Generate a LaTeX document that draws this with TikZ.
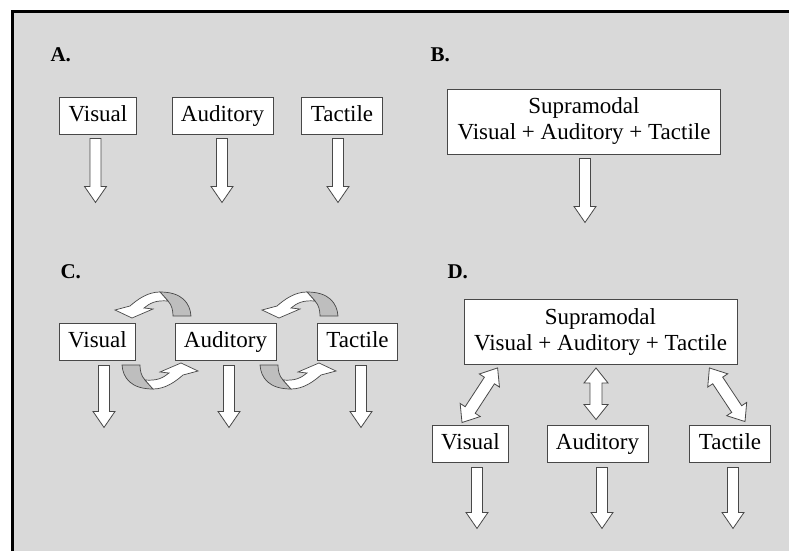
\documentclass[tikz,border=0pt]{standalone}
\usepackage{fontspec}
\setmainfont{Liberation Serif}
\usetikzlibrary{calc}

\definecolor{panel}{RGB}{217,217,217}
\definecolor{rim}{RGB}{72,72,72}
\definecolor{fold}{RGB}{190,190,190}

\tikzset{
	box/.style={draw=rim, fill=white, line width=0.9pt, inner xsep=9pt, inner ysep=0pt,
		minimum height=37pt, text height=16pt, text depth=5pt, font=\fontsize{23}{26}\selectfont},
	bigbox/.style={draw=rim, fill=white, line width=0.9pt, inner xsep=10pt, inner ysep=0pt,
		minimum height=65pt, align=center, font=\fontsize{23}{26}\selectfont},
	panel label/.style={anchor=base west, font=\fontsize{21}{24}\selectfont\bfseries},
	fat/.style={draw=rim, fill=white, line width=0.8pt, line join=miter},
	swoop/.pic={
		\filldraw[draw=rim, fill=fold, line width=0.7pt] (14,-15) .. controls (18,-11) and (19,-5) .. (19,0)
			-- (37,0) .. controls (36,-13) and (28,-24) .. (6,-24) -- cycle;
		\filldraw[fat, line width=0.7pt] (6,-24) .. controls (-6,-24) and (-16,-17) .. (-24,-10)
			-- (-39,-6) -- (-22,2) -- (-1,-7) -- (-10,-8)
			.. controls (-4,-13) and (2,-16) .. (14,-15) -- cycle;
	},
}

% hollow block arrow, tip at #2
\newcommand{\fatarrow}[2]{%
	\coordinate (fa) at (#1);
	\coordinate (fb) at (#2);
	\coordinate (fh) at ($(fb)!16pt!(fa)$);
	\filldraw[fat] ($(fa)!5.5pt!90:(fb)$) -- ($(fh)!5.5pt!-90:(fa)$) -- ($(fh)!11pt!-90:(fa)$)
		-- (fb) -- ($(fh)!11pt!90:(fa)$) -- ($(fh)!5.5pt!90:(fa)$) -- ($(fa)!5.5pt!-90:(fb)$) -- cycle;
}
% hollow block arrow with two tips
\newcommand{\fattwoway}[2]{%
	\coordinate (fa) at (#1);
	\coordinate (fb) at (#2);
	\coordinate (fh) at ($(fa)!15pt!(fb)$);
	\coordinate (fk) at ($(fb)!15pt!(fa)$);
	\filldraw[fat] (fa) -- ($(fh)!12pt!-90:(fb)$) -- ($(fh)!6pt!-90:(fb)$) -- ($(fk)!6pt!90:(fa)$)
		-- ($(fk)!12pt!90:(fa)$) -- (fb) -- ($(fk)!12pt!-90:(fa)$) -- ($(fk)!6pt!-90:(fa)$)
		-- ($(fh)!6pt!90:(fb)$) -- ($(fh)!12pt!90:(fb)$) -- cycle;
}

\begin{document}
\begin{tikzpicture}[x=1pt, y=-1pt]
	\useasboundingbox (0,0) rectangle (789,551);
	\fill[white] (0,0) rectangle (789,551);
	\fill[panel] (12,11) rectangle (789,551);
	\draw[line width=3pt] (12.5,551) -- (12.5,11.5) -- (789,11.5);

	% A
	\node[panel label] (labA) at (47,62) {A.};
	\node[box] (vA) at (98,115.5) {Visual};
	\node[box] (aA) at (222.5,115.5) {Auditory};
	\node[box] (tA) at (342,115.5) {Tactile};
	\foreach \n/\dx in {vA/-2.5, aA/-0.5, tA/-4} {
		\coordinate (\n out) at ($(\n.south)+(\dx,68)$);
		\fatarrow{$(\n.south)+(\dx,4)$}{\n out}
	}

	% B
	\node[panel label] (labB) at (427,62) {B.};
	\node[bigbox] (sB) at (584,121.5) {Supramodal\\Visual + Auditory + Tactile};
	\coordinate (sBout) at ($(sB.south)+(1,68)$);
	\fatarrow{$(sB.south)+(1,4)$}{sBout}

	% C
	\node[panel label] (labC) at (57,278) {C.};
	\node[box] (vC) at (97.5,341.5) {Visual};
	\node[box] (aC) at (225.5,341.5) {Auditory};
	\node[box] (tC) at (357.5,341.5) {Tactile};
	\foreach \n/\dx in {vC/6.5, aC/3.5, tC/3.5} {
		\coordinate (\n out) at ($(\n.south)+(\dx,67)$);
		\fatarrow{$(\n.south)+(\dx,5)$}{\n out}
	}
	\pic at (154,316) {swoop};
	\pic at (301,316) {swoop};
	\pic[rotate=180] at (159,365) {swoop};
	\pic[rotate=180] at (297,365) {swoop};

	% D
	\node[panel label] (labD) at (444,278) {D.};
	\node[bigbox] (sD) at (600.5,332) {Supramodal\\Visual + Auditory + Tactile};
	\node[box] (vD) at (470.5,443.5) {Visual};
	\node[box] (aD) at (597.5,443.5) {Auditory};
	\node[box] (tD) at (730,443.5) {Tactile};
	\fattwoway{$(sD.south west)+(34,3)$}{$(vD.north)+(-8.5,-2)$}
	\fattwoway{$(sD.south)+(-4.5,3)$}{$(aD.north)+(-1.5,-5)$}
	\fattwoway{$(sD.south east)+(-28,3)$}{$(tD.north)+(15,-3)$}
	\foreach \n/\dx in {vD/6.5, aD/4.5, tD/3} {
		\coordinate (\n out) at ($(\n.south)+(\dx,66)$);
		\fatarrow{$(\n.south)+(\dx,5)$}{\n out}
	}
\end{tikzpicture}
\end{document}
